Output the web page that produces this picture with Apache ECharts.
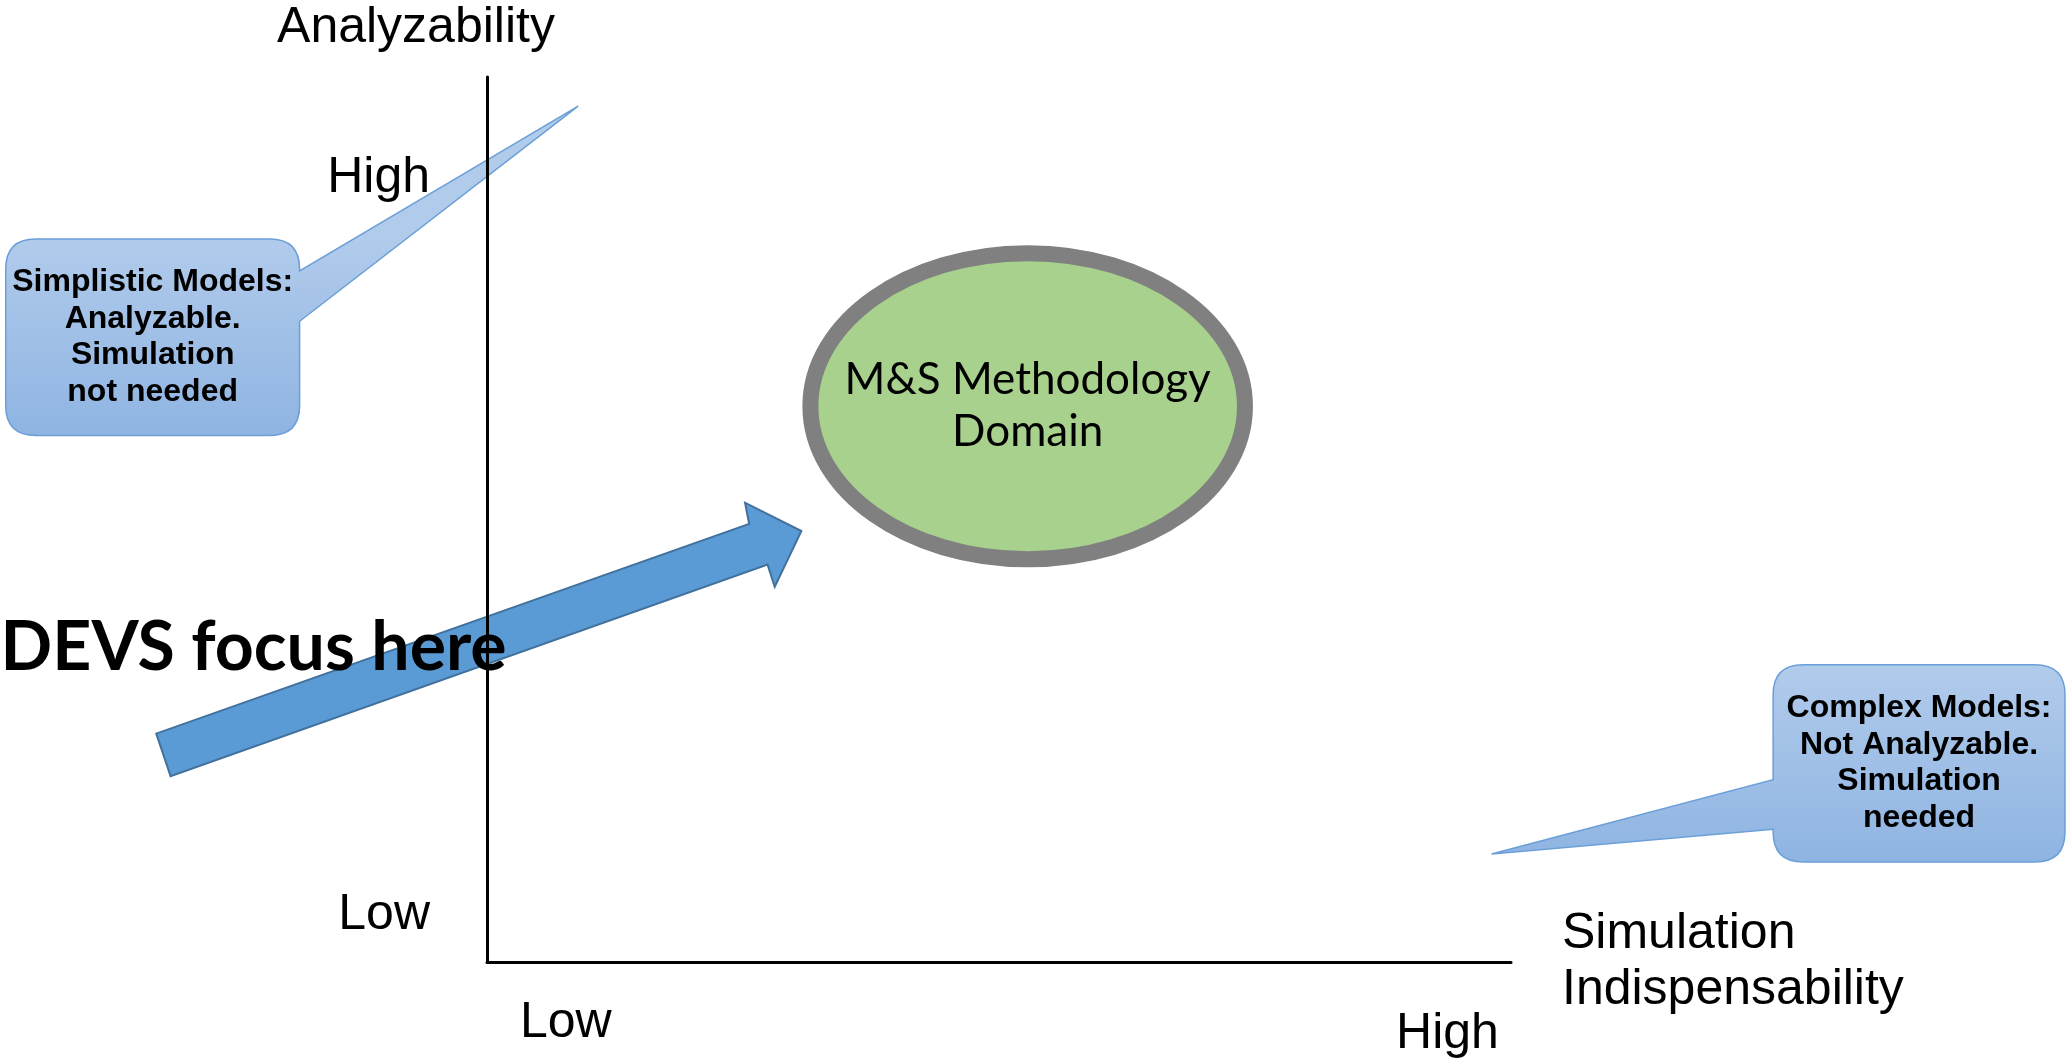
<!DOCTYPE html>
<html>
<head>
<meta charset="utf-8">
<title>M&amp;S Methodology Domain</title>
<script src="https://cdn.jsdelivr.net/npm/echarts@6/dist/echarts.min.js"></script>
<style>
  html, body { margin: 0; padding: 0; background: #fff; }
  #chart { width: 2066px; height: 1060px; }
</style>
</head>
<body>
<div id="chart"></div>
<script>
// both axes run from 0 (Low) to 100 (High)
const axisNames = ['Simulation\nIndispensability', 'Analyzability'];
const levelNames = ['Low', 'High'];
const xLevelValues = [7.7, 93.8];
const yLevelValues = [5.3, 88.6];

// M&S domain: centre x, centre y, radius x, radius y
const domainEllipse = [52.8, 62.8, 22.0, 18.2];
const domainText = 'M&S Methodology\nDomain';

// DEVS arrow outline, tail -> head -> tail
const devsArrow = [[-32.3, 25.8], [25.6, 49.5], [25.2, 51.9], [30.7, 48.7], [28.1, 42.4], [27.4, 44.9], [-30.9, 21.0]];
const devsText = 'DEVS focus here';
const devsTextAt = [-47.5, 35.5];

// callouts: box [x0, x1, yTop, yBottom], tail base [yUpper, yLower], tail tip [x, y]
const calloutTexts = ['Simplistic Models:\nAnalyzable.\nSimulation\nnot needed', 'Complex Models:\nNot Analyzable.\nSimulation\nneeded'];
const calloutBoxes = [[-47.0, -18.3, 81.7, 59.5], [125.6, 154.1, 33.6, 11.3]];
const calloutTailBase = [[78.1, 72.4], [20.6, 15.0]];
const calloutTips = [[8.9, 96.7], [98.1, 12.2]];

const ARIAL = '"Liberation Sans", Arial, sans-serif';
const CALIBRI = 'Lato, "Noto Sans", sans-serif';

var myChart = echarts.init(document.getElementById('chart'));

function renderEllipse(params, api) {
    var c = api.coord([api.value(0), api.value(1)]);
    var s = api.size([api.value(2), api.value(3)]);
    return {
        type: 'group',
        children: [{
            type: 'ellipse',
            shape: { cx: c[0], cy: c[1], rx: s[0] - 8, ry: s[1] - 8 },
            style: { fill: '#a9d18e', stroke: '#808080', lineWidth: 16 }
        }, {
            type: 'text',
            style: {
                text: domainText, x: c[0], y: c[1], align: 'center', verticalAlign: 'middle',
                fontFamily: CALIBRI, fontSize: 44, lineHeight: 52, fill: '#000'
            }
        }]
    };
}

function renderArrow(params, api) {
    var pts = devsArrow.map(function (p) { return api.coord(p); });
    var t = api.coord(devsTextAt);
    return {
        type: 'group',
        children: [{
            type: 'polygon',
            shape: { points: pts },
            style: { fill: '#5b9bd5', stroke: '#41719c', lineWidth: 2 }
        }, {
            type: 'text',
            style: {
                text: devsText, x: t[0], y: t[1], align: 'left', verticalAlign: 'middle',
                fontFamily: CALIBRI, fontWeight: 'bold', fontSize: 68, fill: '#000'
            }
        }]
    };
}

function renderCallout(params, api) {
    var i = params.dataIndex;
    var b = calloutBoxes[i], base = calloutTailBase[i];
    var tip = api.coord(calloutTips[i]);
    var tl = api.coord([b[0], b[2]]), br = api.coord([b[1], b[3]]);
    var x0 = tl[0], y0 = tl[1], x1 = br[0], y1 = br[1];
    var ta = api.coord([0, base[0]])[1], tb = api.coord([0, base[1]])[1];
    var r = 30;
    var tailRight = tip[0] > x1;
    var d = 'M' + (x0 + r) + ',' + y0 + ' L' + (x1 - r) + ',' + y0 + ' Q' + x1 + ',' + y0 + ' ' + x1 + ',' + (y0 + r);
    if (tailRight) d += ' L' + x1 + ',' + ta + ' L' + tip[0] + ',' + tip[1] + ' L' + x1 + ',' + tb;
    d += ' L' + x1 + ',' + (y1 - r) + ' Q' + x1 + ',' + y1 + ' ' + (x1 - r) + ',' + y1;
    d += ' L' + (x0 + r) + ',' + y1 + ' Q' + x0 + ',' + y1 + ' ' + x0 + ',' + (y1 - r);
    if (!tailRight) d += ' L' + x0 + ',' + tb + ' L' + tip[0] + ',' + tip[1] + ' L' + x0 + ',' + ta;
    d += ' L' + x0 + ',' + (y0 + r) + ' Q' + x0 + ',' + y0 + ' ' + (x0 + r) + ',' + y0 + ' Z';
    return {
        type: 'group',
        children: [{
            type: 'path',
            shape: { pathData: d },
            style: {
                fill: new echarts.graphic.LinearGradient(0, y0, 0, y1, [
                    { offset: 0, color: '#b1cbeb' },
                    { offset: 1, color: '#8fb4e2' }
                ], true),
                stroke: '#6a9fd8', lineWidth: 1.5
            }
        }, {
            type: 'text',
            style: {
                text: calloutTexts[i], x: (x0 + x1) / 2, y: (y0 + y1) / 2,
                align: 'center', verticalAlign: 'middle',
                fontFamily: ARIAL, fontWeight: 'bold', fontSize: 32, lineHeight: 36.5, fill: '#000'
            }
        }]
    };
}

var option = {
    backgroundColor: '#fff',
    animation: false,
    grid: { left: 487, top: 77, width: 1024, height: 885, containLabel: false, outerBoundsMode: 'none' },
    xAxis: {
        type: 'value', min: 0, max: 100, z: 10,
        axisLine: { show: true, onZero: false, lineStyle: { color: '#000', width: 3 } },
        axisTick: { show: false },
        splitLine: { show: false },
        axisLabel: {
            customValues: xLevelValues,
            margin: 36,
            formatter: function (v) {
                var k = xLevelValues.indexOf(v);
                return k === 0 ? '{lo|' + levelNames[0] + '}' : '{hi|' + levelNames[1] + '}';
            },
            rich: {
                lo: { fontFamily: ARIAL, fontSize: 50, lineHeight: 50, color: '#000' },
                hi: { fontFamily: ARIAL, fontSize: 50, lineHeight: 72, color: '#000' }
            }
        },
        name: axisNames[0],
        nameLocation: 'end',
        nameGap: 51,
        nameTextStyle: { fontFamily: ARIAL, fontSize: 50, lineHeight: 56, color: '#000', padding: [0, 0, 10, 0] }
    },
    yAxis: {
        type: 'value', min: 0, max: 100, z: 10,
        axisLine: { show: true, onZero: false, lineStyle: { color: '#000', width: 3 } },
        axisTick: { show: false },
        splitLine: { show: false },
        axisLabel: {
            customValues: yLevelValues,
            margin: 57,
            fontFamily: ARIAL, fontSize: 50, color: '#000',
            formatter: function (v) {
                return levelNames[yLevelValues.indexOf(v)];
            }
        },
        name: axisNames[1],
        nameLocation: 'end',
        nameGap: 24,
        nameTextStyle: { fontFamily: ARIAL, fontSize: 50, color: '#000', padding: [0, 142, 0, 0] }
    },
    series: [
        {
            type: 'custom', coordinateSystem: 'cartesian2d', clip: false, silent: true,
            renderItem: renderCallout,
            data: calloutBoxes.map(function (b) { return [b[0], b[2]]; })
        },
        {
            type: 'custom', coordinateSystem: 'cartesian2d', clip: false, silent: true,
            renderItem: renderEllipse,
            data: [domainEllipse]
        },
        {
            type: 'custom', coordinateSystem: 'cartesian2d', clip: false, silent: true,
            renderItem: renderArrow,
            data: [devsTextAt]
        }
    ]
};

option && myChart.setOption(option);
window.addEventListener('resize', function () {
    myChart.resize();
});
</script>
</body>
</html>
